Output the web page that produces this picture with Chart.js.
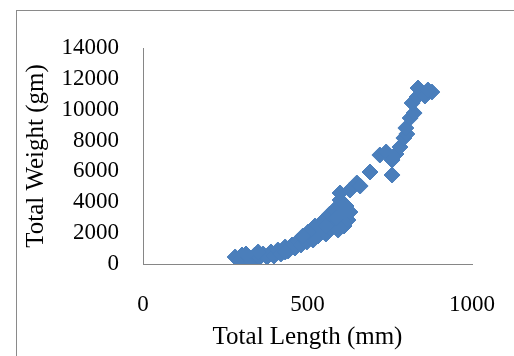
<!DOCTYPE html>
<html>
<head>
<meta charset="utf-8">
<title>Total Weight vs Total Length</title>
<script src="https://cdn.jsdelivr.net/npm/chart.js@4.4.1/dist/chart.umd.min.js"></script>
<style>
  body { margin: 0; background: #fff; }
  #wrap { position: relative; width: 514px; height: 356px; overflow: hidden; }
  #frame { position: absolute; left: 16px; top: 10px; width: 600px; height: 400px;
           border-top: 1px solid #8a8a8a; border-left: 1px solid #8a8a8a; }
  canvas { position: absolute; left: 0; top: 0; }
</style>
</head>
<body>
<div id="wrap">
  <div id="frame"></div>
  <canvas id="chart" width="514" height="356"></canvas>
</div>
<script>
  // total length (mm) and total weight (gm)
  const lengthMm = [
    280, 292, 301, 310, 322, 331, 340, 353, 365, 377, 389, 398,
    410, 419, 432, 441, 453, 462, 471, 480, 489, 498, 508, 517,
    526, 532, 538, 544, 550, 556, 562, 568, 574, 581, 587, 593,
    596, 605, 611, 614, 623, 629, 599, 599, 629, 650, 660, 690,
    720, 739, 757, 757, 769, 781, 793, 802, 799, 812, 824, 818,
    833, 836, 857, 878, 866,
    523, 532, 544, 556, 568, 581, 587, 611, 617, 502, 486,
    350, 313, 432
  ];
  const weightGm = [
    454, 194, 583, 259, 454, 130, 583, 389, 648, 454, 778, 518,
    907, 648, 1102, 843, 1231, 1037, 1491, 1231, 1685, 1426, 1815, 1555,
    2074, 1815, 2463, 2139, 2787, 1944, 2916, 2333, 3111, 2592, 3305, 2204,
    2852, 3629, 2463, 3111, 2852, 3370, 4148, 4601, 4796, 5250, 5055, 5962,
    7064, 7259, 5768, 6740, 7129, 7582, 8166, 8425, 8814, 9462, 9786, 10434,
    10823, 11406, 10888, 11147, 11277,
    2463, 2204, 2722, 2463, 3240, 3500, 2981, 3370, 3759, 2074, 1815,
    778, 648, 778
  ];
  const xTicks = [0, 500, 1000];
  const yTicks = [0, 2000, 4000, 6000, 8000, 10000, 12000, 14000];

  const serif = 'Liberation Serif';
  const axisGray = '#868686';
  const markerBlue = '#4a7ebb';

  const points = lengthMm.map((len, i) => ({ x: len, y: weightGm[i] }));

  new Chart(document.getElementById('chart'), {
    type: 'scatter',
    data: {
      datasets: [{
        data: points,
        pointStyle: 'rectRot',
        pointRadius: 8,
        pointBackgroundColor: markerBlue,
        pointBorderColor: markerBlue,
        pointBorderWidth: 1
      }]
    },
    options: {
      responsive: false,
      animation: false,
      events: [],
      layout: { padding: { top: 48, right: 42, left: 0, bottom: 0 } },
      plugins: { legend: { display: false }, tooltip: { enabled: false } },
      scales: {
        x: {
          type: 'linear',
          min: xTicks[0],
          max: xTicks[xTicks.length - 1],
          afterBuildTicks: (scale) => { scale.ticks = xTicks.map((v) => ({ value: v })); },
          afterFit: (scale) => {
            scale.height = 92;
            // the end labels may overhang the plot, like the original
            scale.paddingLeft = 0;
            scale.paddingRight = 0;
          },
          grid: { display: false, drawTicks: false },
          border: { display: true, color: axisGray, width: 1 },
          ticks: {
            color: '#000',
            padding: 27,
            font: { family: serif, size: 23 },
            callback: (v) => String(v)
          },
          title: {
            display: true,
            text: 'Total Length (mm)',
            color: '#000',
            padding: { bottom: 4 },
            font: { family: serif, size: 25 }
          }
        },
        y: {
          type: 'linear',
          min: yTicks[0],
          max: yTicks[yTicks.length - 1],
          afterBuildTicks: (scale) => { scale.ticks = yTicks.map((v) => ({ value: v })); },
          afterFit: (scale) => { scale.width = 143; },
          grid: { display: false, drawTicks: false },
          border: { display: true, color: axisGray, width: 1 },
          ticks: {
            color: '#000',
            padding: 24,
            font: { family: serif, size: 23 },
            callback: (v) => String(v)
          },
          title: {
            display: true,
            text: 'Total Weight (gm)',
            color: '#000',
            padding: { top: 21 },
            font: { family: serif, size: 25 }
          }
        }
      }
    }
  });
</script>
</body>
</html>
